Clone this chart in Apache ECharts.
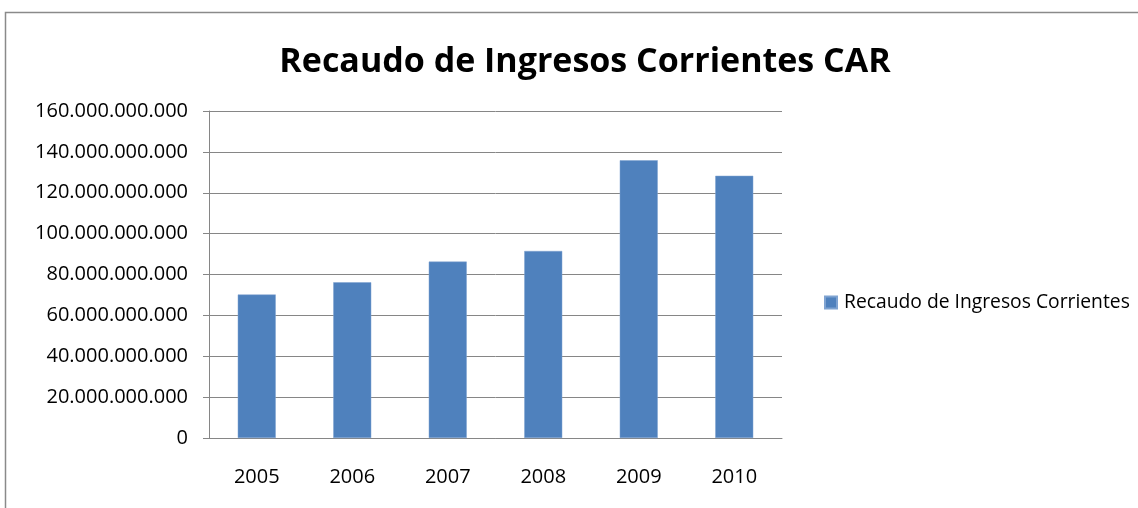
<!DOCTYPE html>
<html>
<head>
<meta charset="utf-8">
<script src="https://cdn.jsdelivr.net/npm/echarts@6/dist/echarts.min.js"></script>
<style>
    html, body { margin: 0; padding: 0; background: #fff; }
    #main { width: 1138px; height: 508px; }
</style>
</head>
<body>
<div id="main"></div>
<script>
// datos
var years = ['2005', '2006', '2007', '2008', '2009', '2010'];
var recaudo = [70200000000, 76200000000, 86300000000, 91500000000, 135900000000, 128300000000];
var seriesName = 'Recaudo de Ingresos Corrientes';
var titulo = 'Recaudo de Ingresos Corrientes CAR';

var fuente = '"Open Sans", sans-serif';

function puntos(v) {
    return String(v).replace(/\B(?=(\d{3})+(?!\d))/g, '.');
}

var myChart = echarts.init(document.getElementById('main'));
var option = {
    backgroundColor: '#fff',
    animation: false,
    title: {
        text: titulo,
        left: 580,
        textAlign: 'center',
        top: 40,
        textStyle: { fontFamily: fuente, fontSize: 34, fontWeight: 'bold', color: '#000' }
    },
    legend: {
        left: 819,
        top: 288,
        itemWidth: 12,
        itemHeight: 12,
        itemGap: 6,
        data: [{ name: seriesName, icon: 'rect' }],
        textStyle: { fontFamily: fuente, fontSize: 19.3, color: '#000', padding: [0, 0, 0, 2] }
    },
    grid: { left: 209, right: 356, top: 111, bottom: 70 },
    xAxis: {
        type: 'category',
        data: years,
        axisLine: { lineStyle: { color: '#868686' } },
        axisTick: { length: 6, lineStyle: { color: '#868686' } },
        axisLabel: { fontFamily: fuente, fontSize: 20, color: '#000', margin: 29 }
    },
    yAxis: {
        type: 'value',
        min: 0,
        max: 160000000000,
        interval: 20000000000,
        axisLine: { show: true, lineStyle: { color: '#868686' } },
        axisTick: { show: true, length: 6, lineStyle: { color: '#868686' } },
        splitLine: { lineStyle: { color: '#868686', width: 1 } },
        axisLabel: { fontFamily: fuente, fontSize: 20, color: '#000', margin: 21, formatter: puntos }
    },
    series: [{
        name: seriesName,
        type: 'bar',
        data: recaudo,
        barWidth: 38,
        itemStyle: { color: '#4F81BD', borderColor: '#7FA3D1', borderWidth: 0.5 }
    }],
    graphic: [{
        type: 'polyline',
        shape: { points: [[5.5, 508], [5.5, 12.5], [1138, 12.5]] },
        style: { stroke: '#8a8a8a', lineWidth: 1.5, fill: null }
    }]
};
myChart.setOption(option);
</script>
</body>
</html>
